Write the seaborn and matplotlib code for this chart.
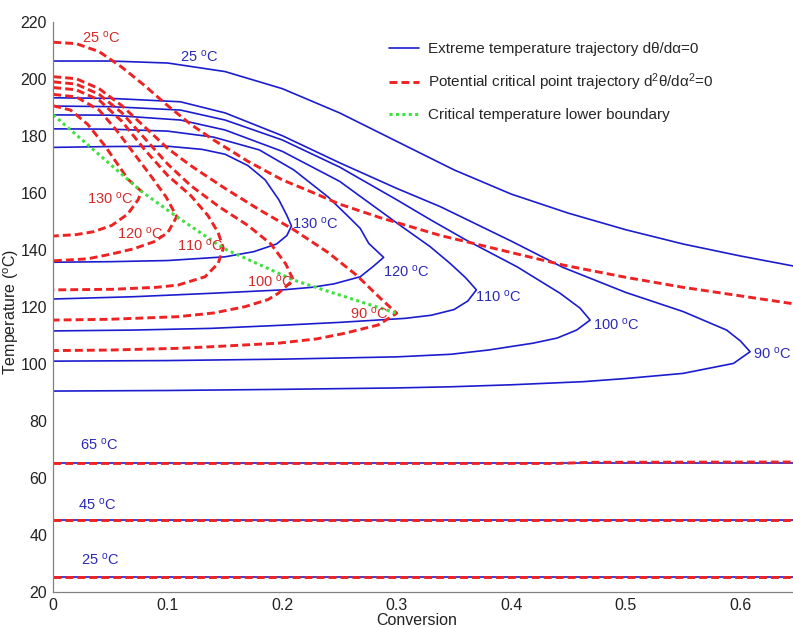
import matplotlib
matplotlib.use("Agg")
import matplotlib.pyplot as plt
from matplotlib.lines import Line2D
import pandas as pd
import seaborn as sns

# ---------------- data ----------------
# Extreme temperature trajectories (dθ/dα = 0), keyed by inlet temperature.
# Each list runs along the upper branch to the turning point and back along the lower branch.
blue_25 = [(0, 206.2), (0.05, 206.2), (0.1, 205.5), (0.15, 202.5), (0.2, 196.5), (0.25, 188),
           (0.3, 178), (0.35, 168), (0.4, 159.5), (0.45, 152.8), (0.5, 147), (0.55, 142),
           (0.6, 137.8), (0.65, 134)]
blue_130 = [(0, 175.9), (0.05, 176.2), (0.1, 176.3), (0.13, 175.2), (0.15, 173.5), (0.17, 169.5),
            (0.185, 164.5), (0.197, 157.5), (0.204, 152), (0.208, 148.3),
            (0.204, 145), (0.195, 142), (0.175, 139.3), (0.15, 137.5), (0.1, 136.2),
            (0.05, 135.8), (0, 135.6)]
blue_120 = [(0, 182.4), (0.05, 182.3), (0.1, 181.6), (0.14, 179.5), (0.18, 175), (0.21, 168),
            (0.24, 158.5), (0.258, 151.5), (0.268, 147.5), (0.2755, 142.2), (0.2885, 137.3),
            (0.279, 134), (0.268, 130.5), (0.245, 128), (0.2257, 126.8), (0.2, 125.9),
            (0.138, 124.7), (0.07, 123.5), (0, 122.7)]
blue_110 = [(0, 187.3), (0.05, 187.2), (0.111, 185.5), (0.15, 182), (0.2, 174.5), (0.25, 164),
            (0.303, 148.5), (0.329, 141.1), (0.3465, 135.2), (0.36, 130.2), (0.3695, 125.9),
            (0.362, 122), (0.35, 119), (0.33, 117), (0.307, 115.9), (0.25, 114.5),
            (0.2, 113.5), (0.138, 112.4), (0.07, 111.8), (0, 111.5)]
blue_100 = [(0, 190.4), (0.05, 190.2), (0.111, 189), (0.15, 185.5), (0.2, 178.5), (0.25, 169),
            (0.3, 157.5), (0.329, 150.6), (0.36, 143.5), (0.405, 134), (0.4426, 124.7),
            (0.46, 119.5), (0.4688, 115.3),
            (0.457, 111.8), (0.44, 109), (0.419, 107.2), (0.38, 104.8), (0.347, 103.3),
            (0.3, 102.4), (0.2, 101.6), (0.1, 101.1), (0, 100.9)]
blue_90 = [(0, 193.3), (0.05, 193.1), (0.111, 191.9), (0.15, 188), (0.2, 180), (0.25, 170.5),
           (0.3, 161.5), (0.338, 155.1), (0.4, 143), (0.445, 133.8), (0.5, 125), (0.55, 118.3),
           (0.588, 111.8), (0.6, 108), (0.6085, 104.2),
           (0.594, 100.1), (0.55, 96.6), (0.5, 94.8), (0.463, 93.7), (0.4, 92.6), (0.347, 91.9),
           (0.3, 91.5), (0.2, 91), (0.1, 90.6), (0, 90.4)]
blue_65 = [(0, 65), (0.65, 65)]
blue_45 = [(0, 45), (0.65, 45)]
blue_25_low = [(0, 25), (0.65, 25)]

# Potential critical point trajectories (d²θ/dα² = 0)
red_25 = [(0, 212.8), (0.02, 212.3), (0.04, 209.5), (0.06, 204), (0.08, 197.5), (0.1, 190.5),
          (0.12, 184), (0.14, 178.5), (0.17, 171), (0.2, 164.5), (0.227, 160), (0.25, 156),
          (0.285, 151.3), (0.338, 145), (0.4, 139), (0.4454, 134.6), (0.5, 130.3),
          (0.55, 126.8), (0.6, 123.8), (0.65, 120.8)]
red_130 = [(0, 190.5), (0.015, 189), (0.03, 184), (0.045, 176.5), (0.057, 169.5), (0.0655, 164.6),
           (0.0772, 160.4),
           (0.074, 157.5), (0.065, 152.5), (0.051, 148.5), (0.035, 146.3), (0.02, 145.3), (0, 144.8)]
red_120 = [(0, 194.5), (0.02, 193.6), (0.04, 189), (0.055, 182), (0.07, 174), (0.085, 166),
           (0.0985, 158.5), (0.1078, 151.6),
           (0.1, 146), (0.088, 142.8), (0.07, 140.3), (0.051, 138.5), (0.03, 136.8), (0, 136.1)]
red_110 = [(0, 196.9), (0.02, 196.1), (0.04, 192.5), (0.06, 185), (0.08, 175), (0.1, 166),
           (0.12, 159), (0.135, 152), (0.144, 146), (0.1485, 140.5),
           (0.144, 135.2), (0.1325, 130.5), (0.109, 127.6), (0.09, 126.8), (0.051, 126.1), (0, 125.9)]
red_100 = [(0, 198.9), (0.02, 198.1), (0.04, 194.5), (0.06, 188), (0.08, 179), (0.1, 170),
           (0.12, 162.5), (0.145, 155), (0.17, 148.5), (0.19, 142), (0.203, 135), (0.2096, 129.4),
           (0.1965, 124.7), (0.1875, 122.5), (0.1674, 120), (0.14, 117.8), (0.109, 116.5),
           (0.05, 115.6), (0, 115.3)]
red_90 = [(0, 200.7), (0.02, 200), (0.04, 196.5), (0.06, 190.5), (0.08, 183), (0.1, 175.5),
          (0.12, 169.5), (0.15, 161.5), (0.18, 154), (0.21, 147), (0.24, 139), (0.265, 131),
          (0.285, 123.2), (0.2999, 117.7),
          (0.2838, 113.6), (0.2548, 110.7), (0.23, 108.7), (0.1965, 107.2), (0.15, 106.2),
          (0.109, 105.4), (0.05, 104.8), (0, 104.6)]
red_65 = [(0, 65), (0.44, 65), (0.47, 65.4), (0.65, 65.5)]
red_45 = [(0, 45), (0.65, 45)]
red_25_low = [(0, 25), (0.65, 25)]

# Critical temperature lower boundary (passes through the turning points of the red curves)
green_boundary = [(0, 187.3), (0.0772, 160.4), (0.1078, 151.6), (0.1485, 140.5),
                  (0.2096, 129.4), (0.2314, 126.5), (0.2999, 117.7)]

# Curve annotations: (text, x, y)
blue_labels = [("25", 0.111, 207.6), ("130", 0.2082, 149.3), ("120", 0.2882, 132.3),
               ("110", 0.3683, 123.5), ("100", 0.4716, 113.6), ("90", 0.6114, 103.4),
               ("65", 0.0233, 71.5), ("45", 0.0218, 50.4), ("25", 0.0242, 31.1)]
red_labels = [("25", 0.025, 214.3), ("130", 0.0292, 158.0), ("120", 0.0554, 145.8),
              ("110", 0.1078, 141.6), ("100", 0.169, 128.8), ("90", 0.259, 117.7)]

x_ticks = [0, 0.1, 0.2, 0.3, 0.4, 0.5, 0.6]
x_tick_labels = ["0", "0.1", "0.2", "0.3", "0.4", "0.5", "0.6"]
y_ticks = [20, 40, 60, 80, 100, 120, 140, 160, 180, 200, 220]


def to_frame(curves):
    rows = []
    for name, pts in curves.items():
        for i, (x, y) in enumerate(pts):
            rows.append((name, i, x, y))
    return pd.DataFrame(rows, columns=["curve", "order", "conversion", "temperature"])


blue_df = to_frame({"b25": blue_25, "b130": blue_130, "b120": blue_120, "b110": blue_110,
                    "b100": blue_100, "b90": blue_90, "b65": blue_65, "b45": blue_45,
                    "b25low": blue_25_low})
red_df = to_frame({"r25": red_25, "r130": red_130, "r120": red_120, "r110": red_110,
                   "r100": red_100, "r90": red_90, "r65": red_65, "r45": red_45,
                   "r25low": red_25_low})
green_df = to_frame({"g": green_boundary})

# ---------------- style ----------------
sns.set_theme(style="white")
plt.rcParams["font.family"] = ["Liberation Sans", "DejaVu Sans"]
plt.rcParams["mathtext.fontset"] = "custom"
plt.rcParams["mathtext.rm"] = "Liberation Sans"
plt.rcParams["mathtext.it"] = "Liberation Sans:italic"
plt.rcParams["mathtext.bf"] = "Liberation Sans:bold"

BLUE = "#1c1ccf"
RED = "#ee2222"
GREEN = "#3fe03f"
BLUE_TXT = "#2a2ab8"
RED_TXT = "#d42a2a"

blue_style = dict(color=BLUE, linewidth=1.2, linestyle="-")
red_style = dict(color=RED, linewidth=2.1, linestyle=(0, (2.7, 1.4)))
green_style = dict(color=GREEN, linewidth=2.2, linestyle=(0, (1, 1.1)))

fig = plt.figure(figsize=(7.93, 6.28), dpi=100)
ax = fig.add_axes([53.3 / 793, 36.3 / 628, 744.3 / 793, 570 / 628])

common = dict(x="conversion", y="temperature", units="curve", estimator=None,
              sort=False, legend=False, ax=ax)
sns.lineplot(data=blue_df, **common, **blue_style)
sns.lineplot(data=red_df, **common, **red_style)
sns.lineplot(data=green_df, **common, **green_style)

for t, x, y in blue_labels:
    ax.text(x, y, t + r" $^{\rm o}$C", color=BLUE_TXT, fontsize=10.5, ha="left", va="center")
for t, x, y in red_labels:
    ax.text(x, y, t + r" $^{\rm o}$C", color=RED_TXT, fontsize=10.5, ha="left", va="center")

ax.set_xlim(0, 0.65)
ax.set_ylim(20, 220)
ax.set_xticks(x_ticks)
ax.set_xticklabels(x_tick_labels)
ax.set_yticks(y_ticks)
ax.tick_params(direction="in", length=4, width=0.8, color="#808080",
               labelsize=11.5, labelcolor="#222222")
ax.tick_params(axis="x", pad=4.5)
ax.tick_params(axis="y", pad=4.5)
for side in ("top", "right"):
    ax.spines[side].set_visible(False)
for side in ("left", "bottom"):
    ax.spines[side].set_color("#808080")
    ax.spines[side].set_linewidth(0.9)

ax.set_xlabel("Conversion", fontsize=11.5, color="#222222")
ax.set_ylabel(r"Temperature ($^{\rm o}$C)", fontsize=11.5, color="#222222")
ax.xaxis.set_label_coords((417 - 53.3) / 744.3, -0.0375)
ax.yaxis.set_label_coords(-0.0435, 0.49)

handles = [Line2D([], [], **blue_style), Line2D([], [], **red_style),
           Line2D([], [], **green_style)]
labels = ["Extreme temperature trajectory dθ/dα=0",
          r"Potential critical point trajectory d$^{2}$θ/dα$^{2}$=0",
          "Critical temperature lower boundary"]
ax.legend(handles, labels, loc="upper left", bbox_to_anchor=(389 / 793, 1 - 42 / 628),
          bbox_transform=fig.transFigure, frameon=False, fontsize=11,
          handlelength=1.95, handletextpad=0.62, labelspacing=1.0, borderpad=0,
          borderaxespad=0)

fig.savefig("out.png", dpi=100)
